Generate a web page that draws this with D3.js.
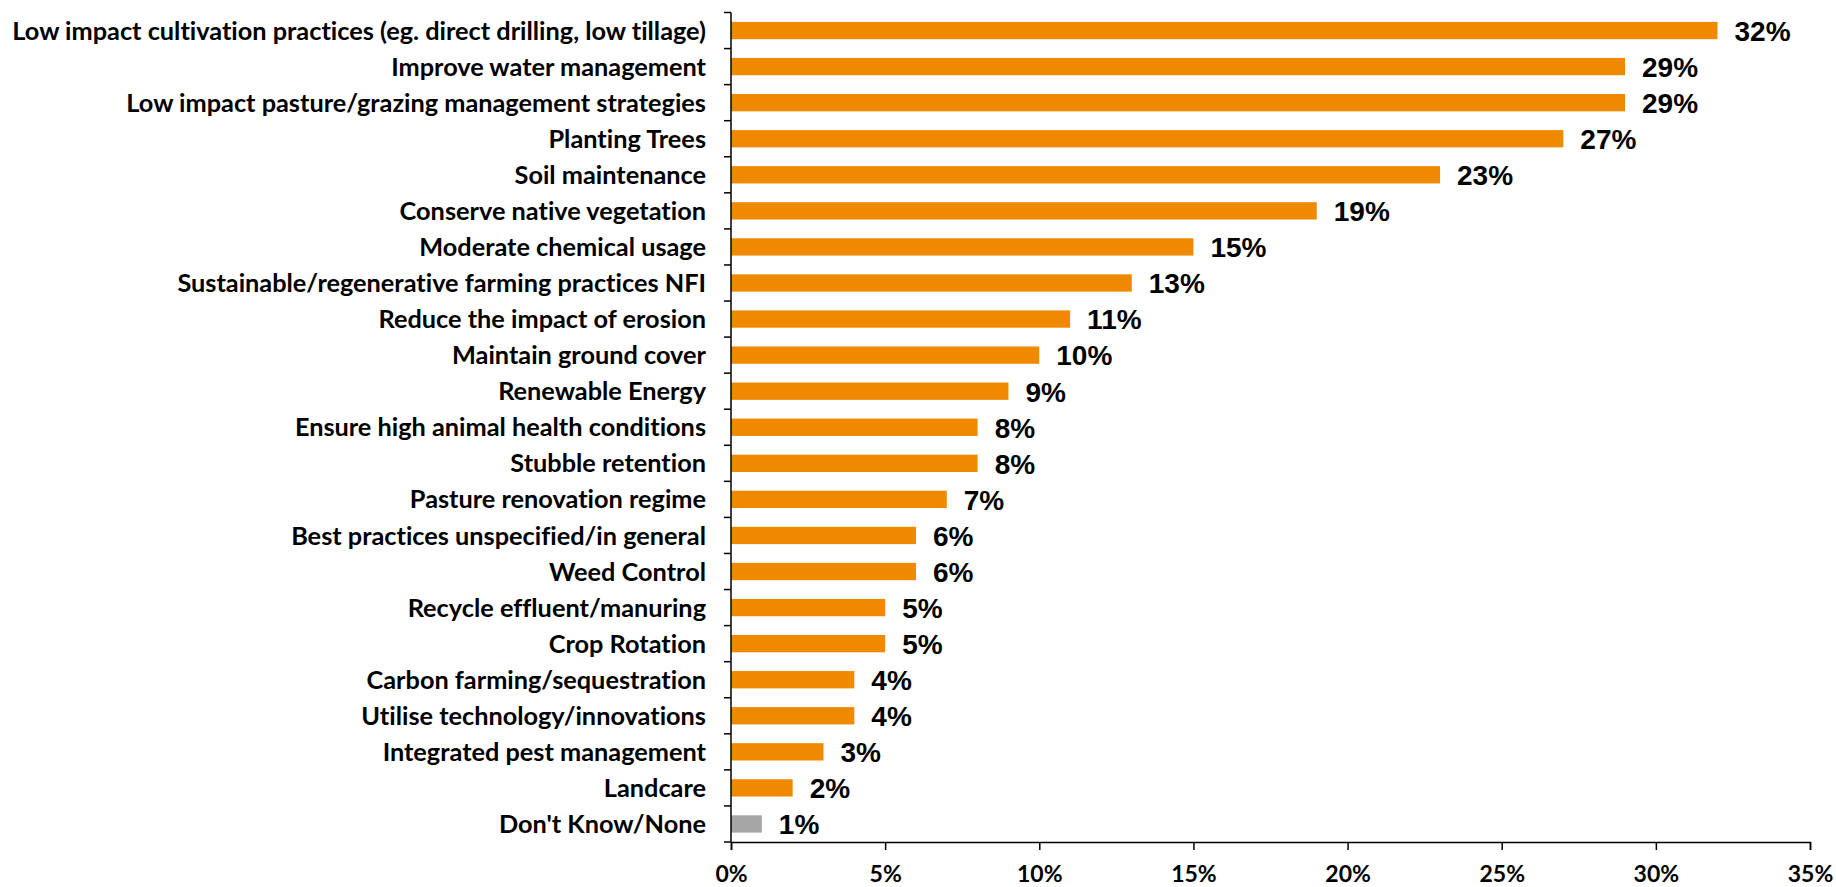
<!DOCTYPE html>
<html>
<head>
<meta charset="utf-8">
<script src="https://cdn.jsdelivr.net/npm/d3@7"></script>
<style>
  html, body { margin: 0; padding: 0; background: #fff; }
  svg { display: block; }
  text { font-variant-ligatures: none; }
</style>
</head>
<body>
<svg id="chart" width="1836" height="887"></svg>
<script>
// Survey responses: sustainable practices undertaken (share of respondents)
const categories = [
  "Low impact cultivation practices (eg. direct drilling, low tillage)",
  "Improve water management",
  "Low impact pasture/grazing management strategies",
  "Planting Trees",
  "Soil maintenance",
  "Conserve native vegetation",
  "Moderate chemical usage",
  "Sustainable/regenerative farming practices NFI",
  "Reduce the impact of erosion",
  "Maintain ground cover",
  "Renewable Energy",
  "Ensure high animal health conditions",
  "Stubble retention",
  "Pasture renovation regime",
  "Best practices unspecified/in general",
  "Weed Control",
  "Recycle effluent/manuring",
  "Crop Rotation",
  "Carbon farming/sequestration",
  "Utilise technology/innovations",
  "Integrated pest management",
  "Landcare",
  "Don't Know/None"
];
const values = [32, 29, 29, 27, 23, 19, 15, 13, 11, 10, 9, 8, 8, 7, 6, 6, 5, 5, 4, 4, 3, 2, 1];
const tickValues = [0, 5, 10, 15, 20, 25, 30, 35];
const neutralCategories = ["Don't Know/None"];

const svg = d3.select("#chart");
const margin = { left: 731, right: 26, top: 12.5, bottom: 45 };
const W = 1836, H = 887;

const x = d3.scaleLinear().domain([0, 35]).range([margin.left, W - margin.right]);
const y = d3.scaleBand().domain(categories).range([margin.top, H - margin.bottom]).paddingInner(0.52).paddingOuter(0.26);

const labelFont = "Lato, 'Open Sans', sans-serif";

// Bars
svg.append("g").selectAll("rect")
  .data(categories)
  .join("rect")
  .attr("x", x(0))
  .attr("y", d => y(d))
  .attr("width", (d, i) => x(values[i]) - x(0))
  .attr("height", y.bandwidth())
  .attr("fill", d => neutralCategories.includes(d) ? "#A6A6A6" : "#EF8A00");

// Value labels
svg.append("g").selectAll("text")
  .data(categories)
  .join("text")
  .attr("x", (d, i) => x(values[i]) + 17)
  .attr("y", d => y(d) + y.bandwidth() / 2)
  .attr("dy", "0.37em")
  .attr("font-family", "'Liberation Sans', Arial, sans-serif")
  .attr("font-weight", "bold")
  .attr("font-size", 28)
  .attr("fill", "#000")
  .text((d, i) => values[i] + "%");

// Category axis: ticks sit on band boundaries
const yAxisG = svg.append("g");
yAxisG.append("line")
  .attr("x1", x(0)).attr("x2", x(0))
  .attr("y1", margin.top).attr("y2", H - margin.bottom)
  .attr("stroke", "#000").attr("stroke-width", 1.5);
const step = y.step();
const boundaries = d3.range(categories.length + 1).map(i => margin.top + i * step);
yAxisG.selectAll("line.tick")
  .data(boundaries)
  .join("line")
  .attr("class", "tick")
  .attr("x1", x(0) - 7).attr("x2", x(0))
  .attr("y1", d => d).attr("y2", d => d)
  .attr("stroke", "#000").attr("stroke-width", 1.5);
yAxisG.selectAll("text")
  .data(categories)
  .join("text")
  .attr("x", x(0) - 25)
  .attr("y", d => y(d) + y.bandwidth() / 2)
  .attr("dy", "0.36em")
  .attr("text-anchor", "end")
  .attr("font-family", labelFont)
  .attr("font-weight", "bold")
  .attr("font-size", 25.3)
  .attr("fill", "#000")
  .text(d => d);

// Value axis
const xAxis = d3.axisBottom(x)
  .tickValues(tickValues)
  .tickFormat(d => d + "%")
  .tickSize(8)
  .tickPadding(16);
const xAxisG = svg.append("g")
  .attr("transform", `translate(0,${H - margin.bottom})`)
  .call(xAxis);
xAxisG.select(".domain").attr("stroke", "#000").attr("stroke-width", 1.5);
xAxisG.selectAll(".tick line").attr("stroke", "#000").attr("stroke-width", 1.5);
xAxisG.selectAll(".tick text")
  .attr("font-family", labelFont)
  .attr("font-weight", "bold")
  .attr("font-size", 23)
  .attr("fill", "#000");
</script>
</body>
</html>
